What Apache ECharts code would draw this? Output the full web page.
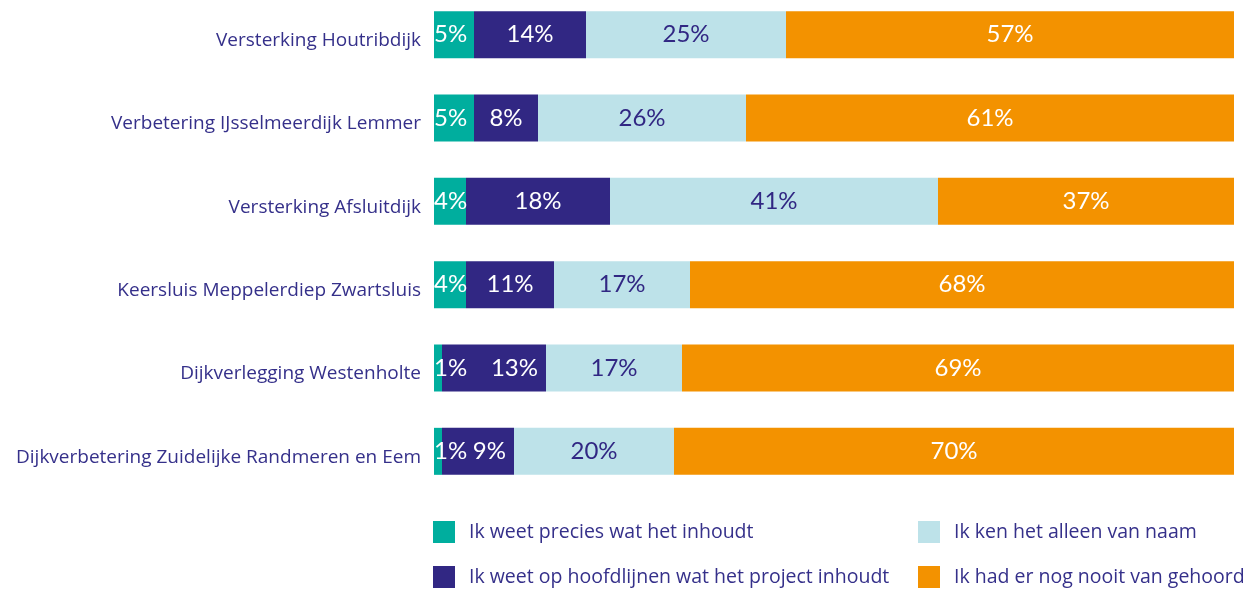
<!DOCTYPE html>
<html>
<head>
<meta charset="utf-8">
<script src="https://cdn.jsdelivr.net/npm/echarts@6/dist/echarts.min.js"></script>
<style>
  html, body { margin: 0; padding: 0; background: #fff; overflow: hidden; }
  #chart { position: absolute; left: 0; top: -7px; width: 1246px; height: 596px; }
</style>
</head>
<body>
<div id="chart"></div>
<script>
// projecten (van boven naar beneden)
const projects = [
  'Versterking Houtribdijk',
  'Verbetering IJsselmeerdijk Lemmer',
  'Versterking Afsluitdijk',
  'Keersluis Meppelerdiep Zwartsluis',
  'Dijkverlegging Westenholte',
  'Dijkverbetering Zuidelijke Randmeren en Eem'
];

const seriesNames = [
  'Ik weet precies wat het inhoudt',
  'Ik weet op hoofdlijnen wat het project inhoudt',
  'Ik ken het alleen van naam',
  'Ik had er nog nooit van gehoord'
];

// percentages
const precies = [5, 5, 4, 4, 1, 1];
const hoofdlijnen = [14, 8, 18, 11, 13, 9];
const vanNaam = [25, 26, 41, 17, 17, 20];
const nooit = [57, 61, 37, 68, 69, 70];

const colors = ['#00ae9e', '#312783', '#bde2e9', '#f39200'];
const labelColors = ['#ffffff', '#ffffff', '#312783', '#ffffff'];
const navy = '#35308a';
const textFont = 'Open Sans';
const numFont = 'Lato';

const values = [precies, hoofdlijnen, vanNaam, nooit];

var myChart = echarts.init(document.getElementById('chart'));

const series = values.map(function (vals, s) {
  return {
    name: seriesNames[s],
    type: 'bar',
    stack: 'totaal',
    barWidth: 47,
    itemStyle: { color: colors[s] },
    label: {
      show: true,
      position: s === 0 ? 'insideLeft' : 'inside',
      distance: 0,
      color: labelColors[s],
      fontFamily: numFont,
      fontSize: 24,
      formatter: '{c}%'
    },
    data: vals.map(function (v, i) {
      // kleine balkjes: label van hoofdlijnen naar rechts schuiven (zoals in het origineel)
      if (s === 1 && values[0][i] < 2) {
        return { value: v, label: { position: 'insideRight', distance: 8 } };
      }
      return v;
    })
  };
});

// legenda: 2 kolommen, 2 rijen
const legendPos = [[433, 528], [433, 573], [918, 528], [918, 573]];
const legends = seriesNames.map(function (name, s) {
  return {
    left: legendPos[s][0],
    top: legendPos[s][1],
    padding: 0,
    icon: 'rect',
    itemWidth: 22,
    itemHeight: 22,
    selectedMode: false,
    textStyle: { color: navy, fontFamily: textFont, fontSize: 19.5, padding: [0, 0, 0, 9] },
    data: [name]
  };
});

var option = {
  animation: false,
  grid: {
    left: 434,
    right: 12,
    top: 0,
    height: 500,
    containLabel: false
  },
  legend: legends,
  xAxis: {
    type: 'value',
    min: 0,
    max: 100,
    show: false
  },
  yAxis: {
    type: 'category',
    inverse: true,
    data: projects,
    axisLine: { show: false },
    axisTick: { show: false },
    axisLabel: {
      margin: 13,
      formatter: '{a|{value}}',
      rich: {
        a: {
          color: navy,
          fontFamily: textFont,
          fontSize: 19,
          padding: [12, 0, 0, 0]
        }
      }
    }
  },
  series: series
};
myChart.setOption(option);
</script>
</body>
</html>
